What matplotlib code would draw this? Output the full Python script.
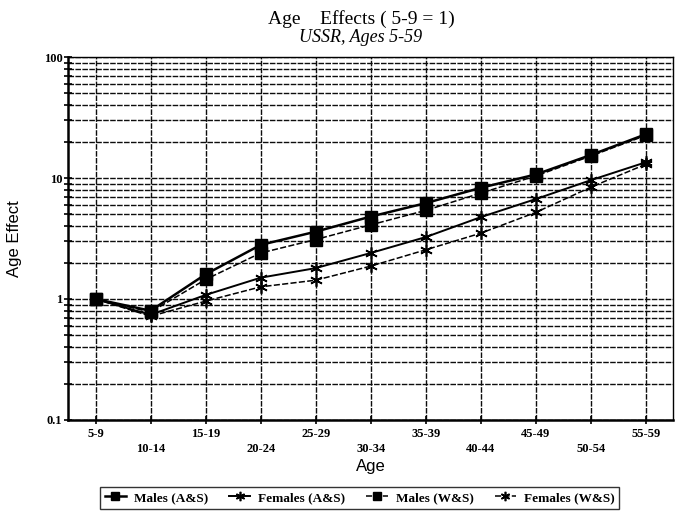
import numpy as np
import matplotlib.pyplot as plt
from matplotlib.ticker import LogLocator, NullFormatter, FixedLocator

ages = ["5-9", "10-14", "15-19", "20-24", "25-29", "30-34",
        "35-39", "40-44", "45-49", "50-54", "55-59"]
males_as = [1.0, 0.80, 1.60, 2.80, 3.60, 4.80, 6.20, 8.30, 10.7, 15.5, 23.0]
females_as = [1.0, 0.74, 1.08, 1.50, 1.80, 2.40, 3.25, 4.75, 6.70, 9.60, 13.5]
males_ws = [1.0, 0.78, 1.45, 2.40, 3.10, 4.10, 5.40, 7.50, 10.4, 15.2, 22.5]
females_ws = [1.0, 0.72, 0.96, 1.26, 1.43, 1.87, 2.55, 3.50, 5.20, 8.40, 13.0]
ytick_labels = ["0.1", "1", "10", "100"]

serif = "Liberation Serif"
sans = "Liberation Sans"

fig = plt.figure(figsize=(6.81, 5.24), dpi=100)
ax = fig.add_axes([0.0999, 0.1985, 0.889, 0.6927])

x = np.arange(len(ages))
star = (6, 2, 0)
ax.plot(x, males_as, color="black", lw=1.8, marker="s", ms=8, label="Males (A&S)")
ax.plot(x, females_as, color="black", lw=1.4, marker=star, ms=9, mew=1.2, label="Females (A&S)")
ax.plot(x, males_ws, color="black", lw=1.1, ls=(0, (4, 1.5)), marker="s", ms=8, label="Males (W&S)")
ax.plot(x, females_ws, color="black", lw=1.1, ls=(0, (4, 1.5)), marker=star, ms=9, mew=1.2, label="Females (W&S)")

ax.set_yscale("log")
ax.set_ylim(0.1, 100)
ax.set_xlim(-0.5, len(ages) - 0.5)
ax.yaxis.set_major_locator(FixedLocator([0.1, 1, 10, 100]))
ax.set_yticklabels(ytick_labels, fontfamily=serif, fontweight="bold", fontsize=9)
ax.yaxis.set_minor_locator(LogLocator(base=10, subs=np.arange(2, 10)))
ax.yaxis.set_minor_formatter(NullFormatter())

ax.set_xticks(x)
ax.set_xticklabels(ages, fontfamily=serif, fontweight="bold", fontsize=9)
for i, lab in enumerate(ax.get_xticklabels()):
	if i % 2 == 1:
		lab.set_y(-0.04)

ax.tick_params(axis="y", which="both", direction="inout", length=6, width=1.2, pad=1)
ax.tick_params(axis="x", direction="inout", length=6, width=1.2, pad=3)

ax.grid(which="major", axis="both", color="0.05", lw=1.0, ls=(0, (4, 1)))
ax.grid(which="minor", axis="y", color="0.05", lw=1.0, ls=(0, (4, 1)))
for s in ax.spines.values():
	s.set_linewidth(1.0)
ax.spines["left"].set_linewidth(1.8)
ax.spines["bottom"].set_linewidth(1.8)

ax.set_ylabel("Age Effect", fontfamily=sans, fontsize=12, labelpad=16)
ax.set_xlabel("Age", fontfamily=sans, fontsize=12, labelpad=3)

fig.text(0.53, 0.963, "Age    Effects ( 5-9 = 1)", ha="center", va="center",
         fontfamily=serif, fontsize=14)
fig.text(0.53, 0.928, "USSR, Ages 5-59", ha="center", va="center",
         fontfamily=serif, fontstyle="italic", fontsize=13)

leg = fig.legend(loc="center", bbox_to_anchor=(0.528, 0.05), ncol=4, frameon=True,
                 fancybox=False, handlelength=1.6, handletextpad=0.6, columnspacing=1.6,
                 borderpad=0.35, markerscale=0.75,
                 prop={"family": serif, "weight": "bold", "size": 9.5})
leg.get_frame().set_edgecolor("black")
leg.get_frame().set_linewidth(1.0)

fig.savefig("out.png", dpi=100)
